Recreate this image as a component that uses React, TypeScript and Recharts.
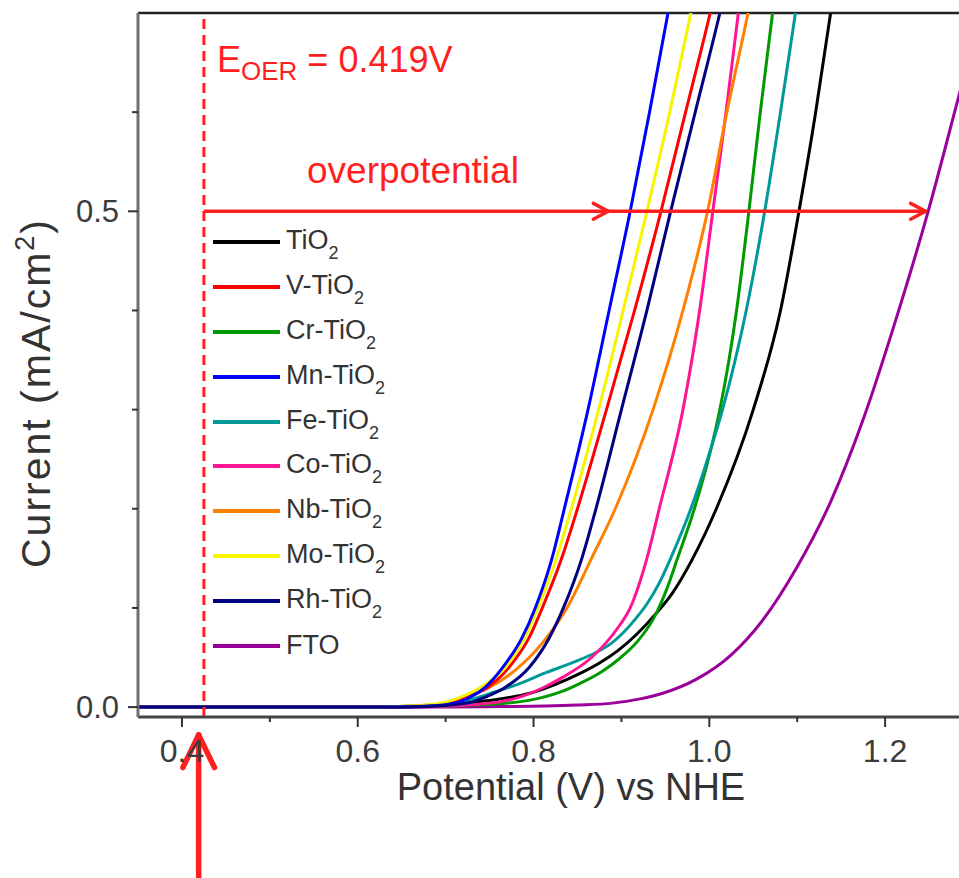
import React from 'react';
import { LineChart, Line, XAxis, YAxis, ReferenceLine, Legend } from 'recharts';

// ---- data (Potential V vs NHE, Current mA/cm2) ----
const seriesNames = ['TiO2', 'V-TiO2', 'Cr-TiO2', 'Mn-TiO2', 'Fe-TiO2', 'Co-TiO2', 'Nb-TiO2', 'Mo-TiO2', 'Rh-TiO2', 'FTO'];
const seriesColors = ['#000000', '#ff0000', '#009a00', '#0000ff', '#009999', '#ff1493', '#ff8000', '#f5f500', '#000080', '#9b009b'];
// order in which the curves are drawn (later = on top)
const drawOrder = ['FTO', 'TiO2', 'Cr-TiO2', 'Fe-TiO2', 'Co-TiO2', 'Nb-TiO2', 'V-TiO2', 'Mo-TiO2', 'Mn-TiO2', 'Rh-TiO2'];

const tio2: number[][] = [[0.35, 0], [0.62, 0], [0.66, 0.0005], [0.72, 0.004], [0.76, 0.008], [0.796, 0.014], [0.825, 0.023], [0.853, 0.034], [0.876, 0.045], [0.896, 0.057], [0.918, 0.074], [0.939, 0.094], [0.958, 0.115], [0.98, 0.148], [1.008, 0.2], [1.05, 0.3], [1.081, 0.4], [1.102, 0.5], [1.121, 0.6], [1.138, 0.7], [1.146, 0.75]];
const vTio2: number[][] = [[0.35, 0], [0.63, 0], [0.67, 0.001], [0.71, 0.005], [0.725, 0.01], [0.748, 0.02], [0.772, 0.04], [0.795, 0.07], [0.81, 0.1], [0.832, 0.15], [0.85, 0.2], [0.883, 0.3], [0.915, 0.4], [0.945, 0.5], [0.973, 0.6], [1.001, 0.7], [1.014, 0.75]];
const crTio2: number[][] = [[0.35, 0], [0.64, 0], [0.7, 0.001], [0.77, 0.004], [0.796, 0.007], [0.83, 0.015], [0.853, 0.024], [0.878, 0.036], [0.898, 0.049], [0.918, 0.066], [0.937, 0.09], [0.952, 0.12], [0.963, 0.148], [0.983, 0.2], [0.999, 0.25], [1.012, 0.3], [1.031, 0.4], [1.045, 0.5], [1.058, 0.6], [1.072, 0.7], [1.079, 0.75]];
const mnTio2: number[][] = [[0.35, 0], [0.64, 0], [0.68, 0.001], [0.715, 0.005], [0.728, 0.01], [0.745, 0.02], [0.765, 0.04], [0.787, 0.07], [0.802, 0.1], [0.821, 0.15], [0.835, 0.2], [0.862, 0.3], [0.886, 0.4], [0.91, 0.5], [0.932, 0.6], [0.953, 0.7], [0.963, 0.75]];
const feTio2: number[][] = [[0.35, 0], [0.62, 0], [0.66, 0.001], [0.7, 0.003], [0.73, 0.008], [0.755, 0.015], [0.785, 0.024], [0.812, 0.034], [0.845, 0.045], [0.871, 0.055], [0.888, 0.064], [0.902, 0.075], [0.917, 0.09], [0.929, 0.104], [0.943, 0.125], [0.956, 0.15], [0.979, 0.2], [0.998, 0.25], [1.015, 0.3], [1.042, 0.4], [1.063, 0.5], [1.081, 0.6], [1.098, 0.7], [1.106, 0.75]];
const coTio2: number[][] = [[0.35, 0], [0.66, 0], [0.7, 0.001], [0.76, 0.005], [0.784, 0.01], [0.812, 0.02], [0.833, 0.03], [0.866, 0.05], [0.896, 0.08], [0.91, 0.1], [0.929, 0.15], [0.943, 0.2], [0.97, 0.3], [0.989, 0.4], [1.004, 0.5], [1.019, 0.6], [1.033, 0.7], [1.04, 0.75]];
const nbTio2: number[][] = [[0.35, 0], [0.62, 0], [0.66, 0.001], [0.705, 0.005], [0.722, 0.01], [0.75, 0.02], [0.783, 0.04], [0.815, 0.07], [0.838, 0.1], [0.866, 0.15], [0.893, 0.2], [0.936, 0.3], [0.97, 0.4], [0.998, 0.5], [1.02, 0.6], [1.044, 0.7], [1.055, 0.75]];
const moTio2: number[][] = [[0.35, 0], [0.62, 0], [0.66, 0.001], [0.7, 0.005], [0.717, 0.01], [0.74, 0.02], [0.768, 0.04], [0.79, 0.07], [0.805, 0.1], [0.826, 0.15], [0.843, 0.2], [0.874, 0.3], [0.902, 0.4], [0.929, 0.5], [0.955, 0.6], [0.979, 0.7], [0.991, 0.75]];
const rhTio2: number[][] = [[0.35, 0], [0.65, 0], [0.69, 0.001], [0.73, 0.005], [0.745, 0.01], [0.768, 0.02], [0.795, 0.04], [0.818, 0.07], [0.834, 0.1], [0.855, 0.15], [0.871, 0.2], [0.9, 0.3], [0.929, 0.4], [0.956, 0.5], [0.984, 0.6], [1.012, 0.7], [1.025, 0.75]];
const fto: number[][] = [[0.35, 0], [0.7, 0], [0.76, 0.0005], [0.814, 0.001], [0.85, 0.002], [0.89, 0.004], [0.92, 0.008], [0.947, 0.014], [0.985, 0.028], [1.024, 0.052], [1.061, 0.088], [1.099, 0.14], [1.138, 0.207], [1.175, 0.29], [1.212, 0.39], [1.249, 0.5], [1.285, 0.62], [1.3, 0.67]];

const seriesValues = [tio2, vTio2, crTio2, mnTio2, feTio2, coTio2, nbTio2, moTio2, rhTio2, fto];

const xTicks = [0.4, 0.5, 0.6, 0.7, 0.8, 0.9, 1.0, 1.1, 1.2];
const xTickLabels = ['0.4', '', '0.6', '', '0.8', '', '1.0', '', '1.2'];
const yTicks = [0, 0.1, 0.2, 0.3, 0.4, 0.5, 0.6];
const yTickLabels = ['0.0', '', '', '', '', '0.5', ''];

const eOer = 0.425;        // dashed line position
const eOerArrow = 0.419;   // upward arrow position
const overArrowY = 0.5;
const overArrowStart = 0.425;
const overArrowTip1 = 0.885;
const overArrowTip2 = 1.246;

const FONT = '"Liberation Sans", Arial, sans-serif';
const RED = '#ff1f1f';

const XTick = (props: any) => {
  const { x, y, index } = props;
  const lbl = xTickLabels[index];
  return (
    <g>
      <line x1={x} y1={y} x2={x} y2={y + (lbl ? 10 : 5)} stroke="#333" strokeWidth={2} />
      {lbl ? (
        <text x={x} y={y + 45} textAnchor="middle" fontSize={32} fontFamily={FONT} fill="#3c3c3c">{lbl}</text>
      ) : null}
    </g>
  );
};

const YTick = (props: any) => {
  const { x, y, index } = props;
  const lbl = yTickLabels[index];
  return (
    <g>
      <line x1={x} y1={y} x2={x - (lbl ? 10 : 6)} y2={y} stroke="#333" strokeWidth={2} />
      {lbl ? (
        <text x={x - 19} y={y + 11} textAnchor="end" fontSize={31} fontFamily={FONT} fill="#3c3c3c">{lbl}</text>
      ) : null}
    </g>
  );
};

const renderName = (name: string) => {
  if (name.endsWith('O2')) {
    return (
      <>
        {name.slice(0, -1)}
        <span style={{ fontSize: 18, position: 'relative', top: 10 }}>2</span>
      </>
    );
  }
  return name;
};

const LegendContent = (props: any) => {
  const payload = [...(props.payload || [])].sort(
    (a: any, b: any) => seriesNames.indexOf(a.value) - seriesNames.indexOf(b.value)
  );
  return (
    <div>
      {payload.map((p: any, i: number) => (
        <div key={i} style={{ height: 44.8, display: 'flex', alignItems: 'center' }}>
          <div style={{ width: 67, height: 4, background: p.color, marginRight: 6 }} />
          <span style={{ fontFamily: FONT, fontSize: 27, color: '#333', whiteSpace: 'nowrap', lineHeight: '27px' }}>
            {renderName(p.value)}
          </span>
        </div>
      ))}
    </div>
  );
};

const seg = (a: number[], b: number[]) => [{ x: a[0], y: a[1] }, { x: b[0], y: b[1] }];

export default function App() {
  return (
    <div style={{ position: 'absolute', left: 0, top: 0, width: 959, height: 878, overflow: 'hidden', background: '#fff' }}>
      <LineChart width={975} height={878} margin={{ top: 13, right: 2, bottom: 160, left: 137 }}>
        <XAxis
          type="number"
          dataKey="v"
          domain={[0.35, 1.3]}
          allowDataOverflow
          ticks={xTicks}
          interval={0}
          height={1}
          tickSize={0}
          tickMargin={0}
          tickLine={false}
          tick={<XTick />}
          axisLine={{ stroke: '#444', strokeWidth: 3 }}
        />
        <YAxis
          type="number"
          dataKey="i"
          domain={[-0.01, 0.7]}
          allowDataOverflow
          ticks={yTicks}
          interval={0}
          width={1}
          tickSize={0}
          tickMargin={0}
          tickLine={false}
          tick={<YTick />}
          axisLine={{ stroke: '#6e6e6e', strokeWidth: 3 }}
        />
        <ReferenceLine y={0.7} stroke="#222" strokeWidth={2.5} />
        {drawOrder.map((nm) => {
          const k = seriesNames.indexOf(nm);
          return (
            <Line
              key={nm}
              name={nm}
              data={seriesValues[k].map(([v, i]) => ({ v, i }))}
              dataKey="i"
              type="monotone"
              stroke={seriesColors[k]}
              strokeWidth={3}
              dot={false}
              activeDot={false}
              isAnimationActive={false}
            />
          );
        })}
        <ReferenceLine x={eOer} stroke={RED} strokeWidth={3} strokeDasharray="10 6" />
        <ReferenceLine segment={seg([overArrowStart, overArrowY], [overArrowTip2, overArrowY])} stroke={RED} strokeWidth={3.5} />
        <ReferenceLine segment={seg([overArrowTip1 - 0.017, overArrowY + 0.008], [overArrowTip1, overArrowY])} stroke={RED} strokeWidth={3.5} strokeLinecap="round" />
        <ReferenceLine segment={seg([overArrowTip1 - 0.017, overArrowY - 0.008], [overArrowTip1, overArrowY])} stroke={RED} strokeWidth={3.5} strokeLinecap="round" />
        <ReferenceLine segment={seg([overArrowTip2 - 0.017, overArrowY + 0.008], [overArrowTip2, overArrowY])} stroke={RED} strokeWidth={3.5} strokeLinecap="round" />
        <ReferenceLine segment={seg([overArrowTip2 - 0.017, overArrowY - 0.008], [overArrowTip2, overArrowY])} stroke={RED} strokeWidth={3.5} strokeLinecap="round" />
        <ReferenceLine ifOverflow="visible" segment={seg([eOerArrow, -0.2], [eOerArrow, -0.028])} stroke={RED} strokeWidth={5.5} />
        <ReferenceLine ifOverflow="visible" segment={seg([eOerArrow - 0.018, -0.061], [eOerArrow, -0.028])} stroke={RED} strokeWidth={5.5} strokeLinecap="round" />
        <ReferenceLine ifOverflow="visible" segment={seg([eOerArrow + 0.018, -0.061], [eOerArrow, -0.028])} stroke={RED} strokeWidth={5.5} strokeLinecap="round" />
        <Legend
          layout="vertical"
          align="center"
          verticalAlign="middle"
          content={<LegendContent />}
          wrapperStyle={{ left: 213, top: 220, width: 220, right: 'auto', bottom: 'auto' }}
        />
      </LineChart>
      <svg width={959} height={878} style={{ position: 'absolute', left: 0, top: 0, pointerEvents: 'none' }}>
        <text x={217} y={72} fill={RED} fontFamily={FONT} fontSize={36}>
          E<tspan fontSize={26} dy={8}>OER</tspan><tspan fontSize={36} dy={-8}> = 0.419V</tspan>
        </text>
        <text x={307} y={183} fill={RED} fontFamily={FONT} fontSize={37}>overpotential</text>
        <text x={571} y={800} textAnchor="middle" fill="#333" fontFamily={FONT} fontSize={38}>Potential  (V) vs NHE</text>
        <text transform="translate(50,393) rotate(-90)" textAnchor="middle" fill="#333" fontFamily={FONT} fontSize={41} letterSpacing={2}>
          Current (mA/cm<tspan fontSize={27} dy={-16}>2</tspan><tspan dy={16}>)</tspan>
        </text>
      </svg>
    </div>
  );
}
